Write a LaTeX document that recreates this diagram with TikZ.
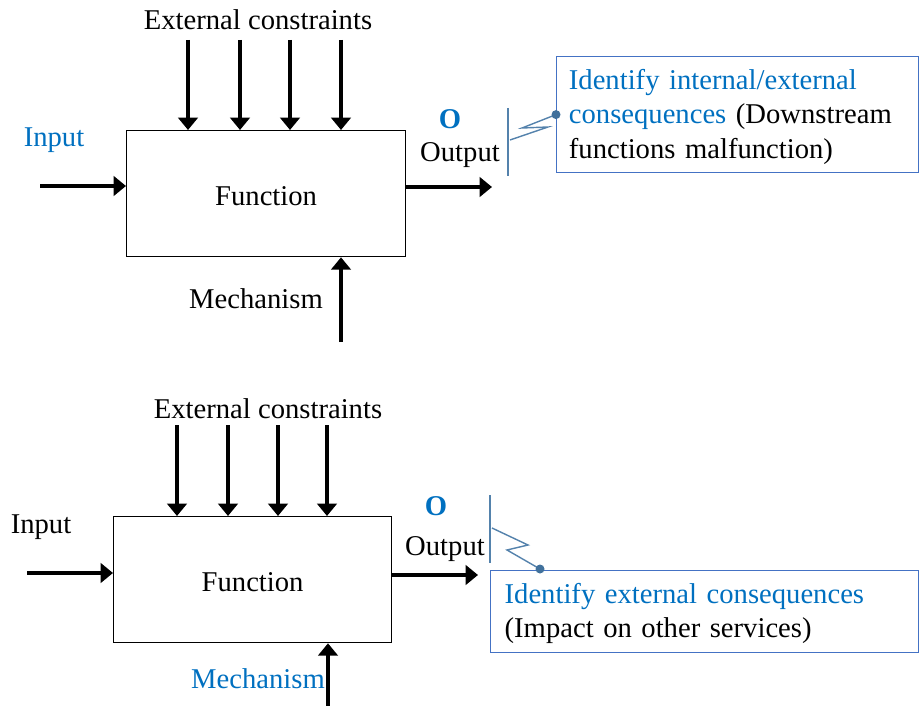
\documentclass[tikz,border=0pt]{standalone}
\usepackage{fontspec}
\setmainfont{Liberation Serif}
\usetikzlibrary{arrows.meta}
\definecolor{txtblue}{RGB}{0,112,192}
\definecolor{boxblue}{RGB}{68,114,196}
\definecolor{zigblue}{RGB}{84,130,172}
\definecolor{dotblue}{RGB}{65,113,156}

\begin{document}
\begin{tikzpicture}[x=0.02cm, y=-0.02cm,
    font=\fontsize{16.3}{19.5}\selectfont,
    flow/.style={line width=2.3pt, -{Triangle[length=7pt,width=11pt]}},
    funcbox/.style={draw, line width=0.75pt, anchor=north west, minimum height=2.52cm, text height=14pt},
    consbox/.style={draw=boxblue, line width=0.7pt, anchor=north west, align=left, inner xsep=7pt},
    zig/.style={zigblue, line width=0.8pt},
    lbl/.style={inner sep=0pt}]
    \useasboundingbox (0,0) rectangle (923,706);

    % ---- upper diagram ----
    \node[funcbox, minimum width=5.58cm] (fn1) at (126,130) {Function};
    \node[lbl] (ext1) at (258,20) {External constraints};
    \foreach \x [count=\i] in {188,240,290,341} {
        \coordinate (ec1\i) at (\x,40);
        \draw[flow] (ec1\i) -- (ec1\i |- fn1.north);
    }
    \node[lbl, txtblue] (inp1) at (54,140) {Input};
    \coordinate (in1) at (40,186);
    \draw[flow] (in1) -- (fn1.west |- in1);
    \coordinate (out1) at (492,187);
    \draw[flow] (fn1.east |- out1) -- (out1);
    \node[lbl, txtblue, font=\fontsize{16.3}{19.5}\selectfont\bfseries] (o1) at (450,119) {O};
    \node[lbl] (outl1) at (460,155) {Output};
    \node[lbl] (mech1) at (256,299) {Mechanism};
    \coordinate (mc1) at (341,342);
    \draw[flow] (mc1) -- (mc1 |- fn1.south);

    \node[consbox, text width=6.75cm, minimum height=2.32cm] (cons1) at (556,56)
        {\rule{0pt}{14pt}\textcolor{txtblue}{Identify internal/external}\\
         \textcolor{txtblue}{consequences} (Downstream\\
         functions malfunction)};
    % failure mark
    \coordinate (bar1a) at (508,108);
    \coordinate (bar1b) at (508,176);
    \draw[zig] (bar1a) -- (bar1b);
    \coordinate (zz1) at (510,140);
    \draw[zig] (zz1) -- (548,127) -- (522,128) -- (cons1.west);
    \fill[dotblue] (cons1.west) circle (4.5);

    % ---- lower diagram ----
    \node[funcbox, minimum width=5.56cm] (fn2) at (113,516) {Function};
    \node[lbl] (ext2) at (268,409) {External constraints};
    \foreach \x [count=\i] in {177,228,278,327} {
        \coordinate (ec2\i) at (\x,425);
        \draw[flow] (ec2\i) -- (ec2\i |- fn2.north);
    }
    \node[lbl] (inp2) at (41,527) {Input};
    \coordinate (in2) at (27,573);
    \draw[flow] (in2) -- (fn2.west |- in2);
    \coordinate (out2) at (478,575);
    \draw[flow] (fn2.east |- out2) -- (out2);
    \node[lbl, txtblue, font=\fontsize{16.3}{19.5}\selectfont\bfseries] (o2) at (436,506) {O};
    \node[lbl] (outl2) at (445,549) {Output};
    \node[lbl, txtblue] (mech2) at (258,679) {Mechanism};
    \coordinate (mc2) at (328,706);
    \draw[flow] (mc2) -- (mc2 |- fn2.south);

    \node[consbox, inner xsep=8pt, text width=8.0cm, minimum height=1.64cm] (cons2) at (490,570)
        {\rule{0pt}{14pt}\textcolor{txtblue}{Identify external consequences}\\
         (Impact on other services)};
    % failure mark
    \coordinate (bar2a) at (490,495);
    \coordinate (bar2b) at (490,563);
    \draw[zig] (bar2a) -- (bar2b);
    \coordinate (zz2) at (492,528);
    \coordinate (dot2) at (540,569);
    \draw[zig] (zz2) -- (528,545) -- (507,550) -- (dot2);
    \fill[dotblue] (dot2) circle (4.5);
\end{tikzpicture}
\end{document}
